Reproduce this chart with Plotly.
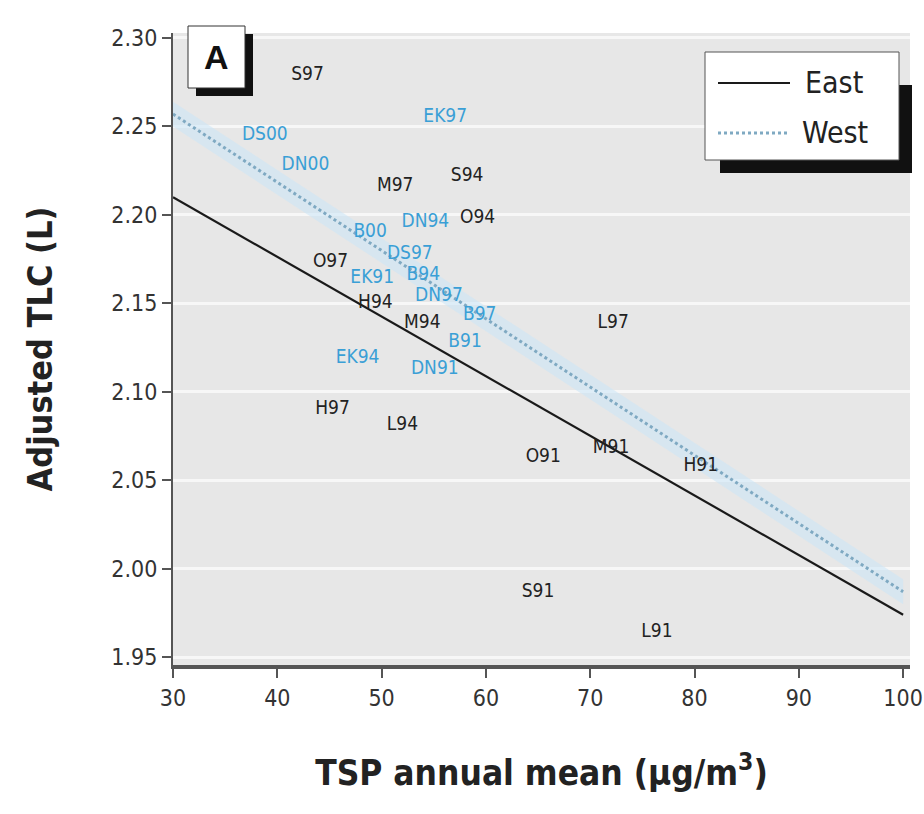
import plotly.graph_objects as go

# ---- data ----
east_labels = ["S97", "S94", "M97", "O94", "O97", "H94", "M94", "L97",
               "H97", "L94", "O91", "M91", "H91", "S91", "L91"]
east_x = [42.9, 58.2, 51.3, 59.2, 45.1, 49.4, 53.9, 72.2,
          45.3, 52.0, 65.5, 72.0, 80.6, 65.0, 76.4]
east_y = [2.279, 2.222, 2.216, 2.198, 2.173, 2.150, 2.139, 2.139,
          2.090, 2.081, 2.063, 2.068, 2.058, 1.987, 1.964]

west_labels = ["DS00", "DN00", "EK97", "B00", "DN94", "DS97", "EK91",
               "B94", "DN97", "B97", "B91", "EK94", "DN91"]
west_x = [38.8, 42.7, 56.1, 48.9, 54.2, 52.7, 49.1,
          54.0, 55.5, 59.4, 58.0, 47.7, 55.1]
west_y = [2.245, 2.228, 2.255, 2.190, 2.196, 2.178, 2.164,
          2.166, 2.154, 2.143, 2.128, 2.119, 2.113]

fit_x = [30, 100]
east_fit = [2.210, 1.974]
west_fit = [2.257, 1.987]
west_band_lo = [2.250, 1.980]
west_band_hi = [2.264, 1.994]

x_ticks = [30, 40, 50, 60, 70, 80, 90, 100]
y_ticks = [1.95, 2.00, 2.05, 2.10, 2.15, 2.20, 2.25, 2.30]

BLUE = "#3a9fd6"
FONT = "DejaVu Sans Condensed, Liberation Sans Narrow, Arial Narrow, sans-serif"

fig = go.Figure()

# light band along West line
fig.add_trace(go.Scatter(x=fit_x, y=west_band_lo, mode="lines",
                         line=dict(width=0), hoverinfo="skip", showlegend=False))
fig.add_trace(go.Scatter(x=fit_x, y=west_band_hi, mode="lines",
                         line=dict(width=0), fill="tonexty",
                         fillcolor="rgba(205,230,246,0.6)",
                         hoverinfo="skip", showlegend=False))

fig.add_trace(go.Scatter(x=fit_x, y=east_fit, mode="lines", name="East",
                         line=dict(color="#1a1a1a", width=2.2), showlegend=False))
fig.add_trace(go.Scatter(x=fit_x, y=west_fit, mode="lines", name="West",
                         line=dict(color="#7fa9c2", width=3, dash="dot"),
                         showlegend=False))

fig.add_trace(go.Scatter(x=east_x, y=east_y, mode="text", text=east_labels,
                         textposition="middle center",
                         textfont=dict(family=FONT, size=19, color="#222222"),
                         showlegend=False))
fig.add_trace(go.Scatter(x=west_x, y=west_y, mode="text", text=west_labels,
                         textposition="middle center",
                         textfont=dict(family=FONT, size=19, color=BLUE),
                         showlegend=False))

W, H = 924, 814
L, T = 173, 33
R = W - 910
B = H - 665
pw, ph = W - L - R, H - T - B


def px(x):
    return (x - L) / pw


def py(y):
    return (H - B - y) / ph


shapes = []
# "A" box with shadow
shapes.append(dict(type="rect", xref="paper", yref="paper",
                   x0=px(196), x1=px(253), y0=py(96), y1=py(34),
                   fillcolor="#111111", line=dict(width=0)))
shapes.append(dict(type="rect", xref="paper", yref="paper",
                   x0=px(188), x1=px(245), y0=py(88), y1=py(26),
                   fillcolor="white", line=dict(color="#333333", width=1)))
# legend box with shadow
shapes.append(dict(type="rect", xref="paper", yref="paper",
                   x0=px(720), x1=px(912), y0=py(173), y1=py(85),
                   fillcolor="#111111", line=dict(width=0)))
shapes.append(dict(type="rect", xref="paper", yref="paper",
                   x0=px(705), x1=px(899), y0=py(160), y1=py(52),
                   fillcolor="white", line=dict(color="#555555", width=1)))
shapes.append(dict(type="line", xref="paper", yref="paper",
                   x0=px(718), x1=px(790), y0=py(83), y1=py(83),
                   line=dict(color="#1a1a1a", width=2.2)))
shapes.append(dict(type="line", xref="paper", yref="paper",
                   x0=px(718), x1=px(790), y0=py(133), y1=py(133),
                   line=dict(color="#7fa9c2", width=3, dash="dot")))

annotations = [
    dict(xref="paper", yref="paper", x=px(216), y=py(57), text="<b>A</b>",
         xanchor="center", yanchor="middle",
         showarrow=False, font=dict(family="Liberation Sans, Arial, sans-serif",
                                    size=34, color="#111111")),
    dict(xref="paper", yref="paper", x=px(803), y=py(83), text="East",
         xanchor="left", yanchor="middle", showarrow=False,
         font=dict(family=FONT, size=30, color="#222222")),
    dict(xref="paper", yref="paper", x=px(800), y=py(133), text="West",
         xanchor="left", yanchor="middle", showarrow=False,
         font=dict(family=FONT, size=30, color="#222222")),
]

fig.update_layout(
    width=W, height=H,
    margin=dict(l=L, r=R, t=T, b=B, autoexpand=False),
    paper_bgcolor="white",
    plot_bgcolor="#e7e7e7",
    shapes=shapes,
    annotations=annotations,
    showlegend=False,
    font=dict(family=FONT, color="#333333"),
)

fig.update_xaxes(
    range=[30, 100.66], tickmode="array", tickvals=x_ticks,
    ticktext=[str(v) for v in x_ticks], automargin=False,
    ticks="outside", ticklen=9, tickwidth=2, tickcolor="#555555",
    showline=True, linecolor="#555555", linewidth=4,
    showgrid=False, zeroline=False,
    tickfont=dict(family=FONT, size=23, color="#333333"),
    title=dict(text="<b>TSP annual mean (μg/m<sup>3</sup>)</b>",
               font=dict(family=FONT, size=35, color="#222222"), standoff=52),
)
fig.update_yaxes(
    range=[1.9456, 2.3028], tickmode="array", tickvals=y_ticks,
    ticktext=["%.2f" % v for v in y_ticks], automargin=False,
    ticks="outside", ticklen=9, tickwidth=2, tickcolor="#555555",
    showline=True, linecolor="#555555", linewidth=2,
    showgrid=True, gridcolor="#f7f7f7", gridwidth=3, zeroline=False,
    tickfont=dict(family=FONT, size=23, color="#333333"),
    title=dict(text="<b>Adjusted TLC (L)</b>",
               font=dict(family=FONT, size=34, color="#222222"), standoff=48),
)

fig.write_html("out.html",
               config={"displayModeBar": False},
               post_script="document.body.style.margin='0';"
                           "document.body.style.overflow='hidden';")
